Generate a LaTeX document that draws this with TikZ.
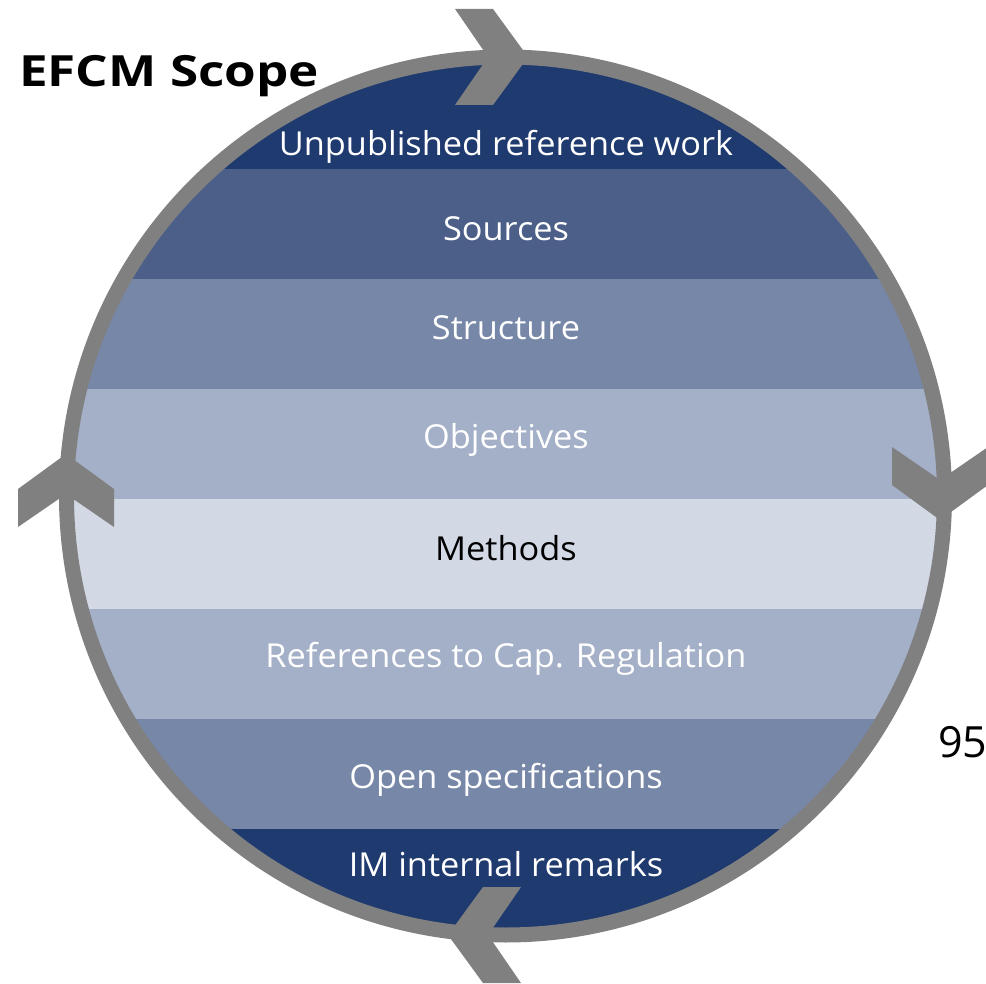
\documentclass[tikz,border=0pt]{standalone}
\usepackage{fontspec}
\setmainfont{Open Sans}
\definecolor{bandA}{HTML}{1F3A6F}
\definecolor{bandB}{HTML}{4B5F89}
\definecolor{bandC}{HTML}{7787A8}
\definecolor{bandD}{HTML}{A4B0C8}
\definecolor{bandE}{HTML}{D2D8E4}
\definecolor{ringgray}{HTML}{808080}
\newcommand{\bandlabel}[1]{\scalebox{1.04}[1]{#1}}
\begin{document}
\begin{tikzpicture}[x=1pt,y=-1pt,
  bandtext/.style={anchor=base,text=white,font=\fontsize{33}{40}\selectfont},
  ringline/.style={draw=ringgray,line width=15pt},
  chevron/.pic={\fill[ringgray] (-33,-48) -- (5,-48) -- (40,0) -- (5,48) -- (-33,48) -- (0,0) -- cycle;}
]
\useasboundingbox (0,0) rectangle (986,984);
\coordinate (c) at (505.5,496);
\begin{scope}
  \clip (c) circle[radius=445pt];
  \fill[bandA] (0,30) rectangle (986,169);
  \fill[bandB] (0,169) rectangle (986,279);
  \fill[bandC] (0,279) rectangle (986,389);
  \fill[bandD] (0,389) rectangle (986,499);
  \fill[bandE] (0,499) rectangle (986,609);
  \fill[bandD] (0,609) rectangle (986,719);
  \fill[bandC] (0,719) rectangle (986,829);
  \fill[bandA] (0,829) rectangle (986,960);
\end{scope}
\draw[ringline] (c) circle[radius=439pt];
\pic at (488,57) {chevron};
\pic[rotate=-90] at (940,480) {chevron};
\pic[rotate=180] at (488,935) {chevron};
\pic[rotate=90] at (66,494) {chevron};
\node[bandtext] (t1) at (506,156) {\bandlabel{Unpublished reference work}};
\node[bandtext] (t2) at (506,241) {\bandlabel{Sources}};
\node[bandtext] (t3) at (506,340) {\bandlabel{Structure}};
\node[bandtext] (t4) at (506,448) {\bandlabel{Objectives}};
\node[bandtext,text=black] (t5) at (506,560) {\bandlabel{Methods}};
\node[bandtext] (t6) at (506,667) {\bandlabel{References to Cap. Regulation}};
\node[bandtext] (t7) at (506,788) {\bandlabel{Open specifications}};
\node[bandtext] (t8) at (506,876) {\bandlabel{IM internal remarks}};
\node[anchor=base west,inner sep=0pt,font=\bfseries\fontsize{43}{50}\selectfont] (title) at (19,87) {\scalebox{1.19}[1]{EFCM Scope}};
\node[anchor=base west,inner sep=0pt,font=\fontsize{43}{50}\selectfont] (num) at (938,757) {95};
\end{tikzpicture}
\end{document}
